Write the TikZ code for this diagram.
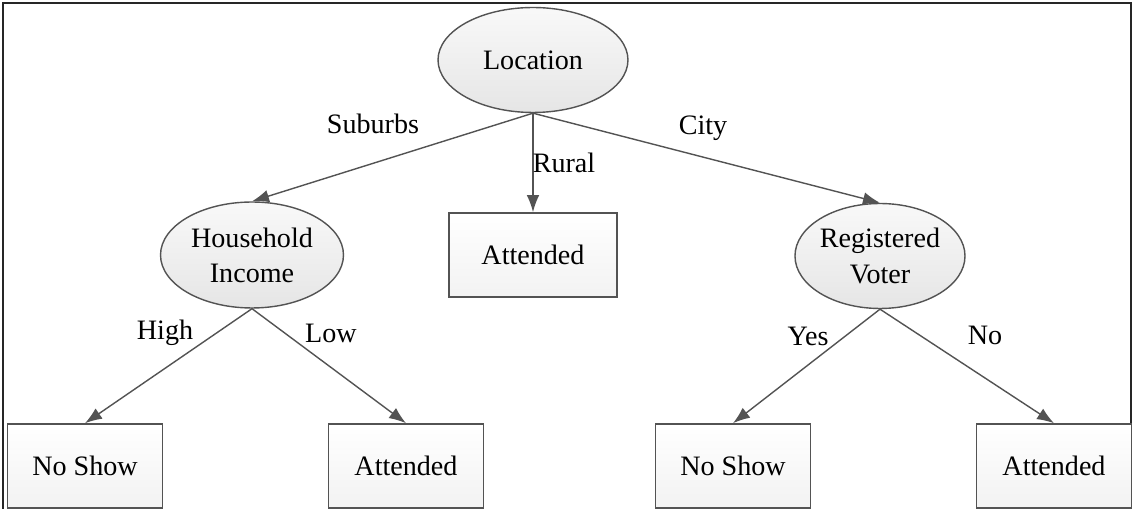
\documentclass[tikz,border=0pt]{standalone}
\usepackage{fontspec}
\setmainfont{Liberation Serif}
\usetikzlibrary{arrows.meta,shapes.geometric}

\begin{document}
\begin{tikzpicture}[x=0.02cm,y=-0.02cm,>={Latex[length=3.4mm,width=2.5mm]},
  font=\fontsize{16}{20}\selectfont,line cap=round,
  split/.style={ellipse,draw=gray!65!black,line width=0.8pt,top color=gray!5,bottom color=gray!20,inner sep=0pt,align=center},
  leaf/.style={rectangle,draw=gray!65!black,line width=0.9pt,top color=white,bottom color=gray!10,minimum width=3.1cm,minimum height=1.68cm},
  branch/.style={->,draw=gray!65!black,line width=0.8pt},
  lbl/.style={inner sep=0pt}]
\useasboundingbox (0,0) rectangle (1134,509);
\draw[black!85,line width=1.2pt] (3,509) -- (3,3) -- (1131,3) -- (1131,509);
% decision nodes
\node[split,minimum width=3.8cm,minimum height=2.1cm] (loc) at (533,60) {Location};
\node[split,minimum width=3.66cm,minimum height=2.12cm] (hh) at (252,255) {Household\\Income};
\node[split,minimum width=3.4cm,minimum height=2.1cm] (reg) at (880,256) {Registered\\Voter};
% outcomes
\node[leaf,minimum width=3.36cm] (rural) at (533,255) {Attended};
\node[leaf] (hhhigh) at (85,466) {No Show};
\node[leaf] (hhlow) at (406,466) {Attended};
\node[leaf] (regyes) at (733,466) {No Show};
\node[leaf] (regno) at (1054,466) {Attended};
% branches
\draw[branch] (loc.south) -- (hh.north);
\draw[branch] (loc.south) -- (rural.north);
\draw[branch] (loc.south) -- (reg.north);
\draw[branch] (hh.south) -- (hhhigh.north);
\draw[branch] (hh.south) -- (hhlow.north);
\draw[branch] (reg.south) -- (regyes.north);
\draw[branch] (reg.south) -- (regno.north);
% branch labels
\node[lbl] (suburbs) at (373,124) {Suburbs};
\node[lbl] (ruraltxt) at (564,163) {Rural};
\node[lbl] (city) at (703,128) {City};
\node[lbl] (high) at (165,333) {High};
\node[lbl] (low) at (331,333) {Low};
\node[lbl] (yes) at (808,336) {Yes};
\node[lbl] (no) at (985,335) {No};
\end{tikzpicture}
\end{document}
